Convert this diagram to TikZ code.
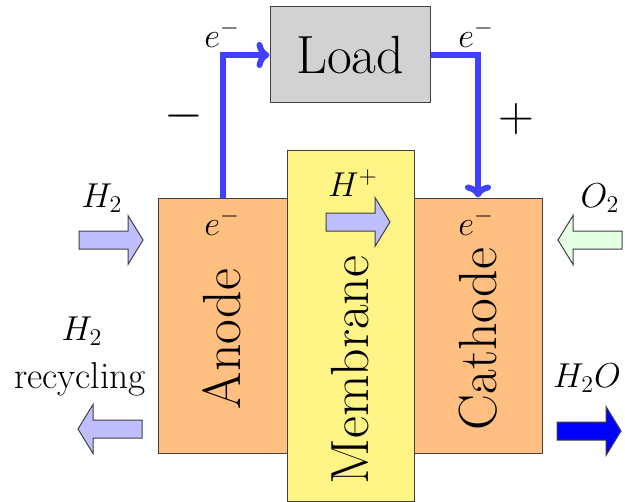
\documentclass[tikz,border=0pt]{standalone}
\usetikzlibrary{arrows.meta}
\definecolor{membr}{RGB}{255,245,135}
\newcommand{\bigfnt}{\fontsize{26.9}{32}\selectfont}
\newcommand{\smfnt}{\fontsize{18.7}{22}\selectfont}
\begin{document}
\begin{tikzpicture}[x=0.5pt,y=-0.5pt,
  cell/.style={draw=black!75, line width=0.5pt, fill=orange!50, minimum width=64.5pt, minimum height=127.5pt, inner sep=0pt},
  membox/.style={draw=black!75, line width=0.5pt, fill=membr, minimum width=63.5pt, minimum height=175pt, inner sep=0pt},
  loadbox/.style={draw=black!75, line width=0.5pt, fill=gray!35, minimum width=80pt, minimum height=48pt, inner sep=0pt, font=\bigfnt},
  bigtxt/.style={font=\bigfnt, inner sep=0pt},
  smalltxt/.style={font=\smfnt, inner sep=0pt},
  wire/.style={draw=blue!75, line width=3pt, -{Computer Modern Rightarrow[length=6.5pt,width=13pt,round]}},
  fatR/.pic={\path[pic actions] (0,-9) -- (49,-9) -- (49,-24.5) -- (64,0) -- (49,24.5) -- (49,9) -- (0,9) -- cycle;},
  flow/.style={draw=black!75, line width=0.5pt}
]
\useasboundingbox (0,0) rectangle (625,502);

% cells
\node[cell] (anode) at (222.5,325.5) {};
\node[cell] (cathode) at (478,325.5) {};
\node[membox] (membrane) at (350.5,326) {};
\node[loadbox] (load) at (350,55) {Load};

% cell labels
\node[bigtxt, rotate=90] (anodetxt) at (222,339) {Anode};
\node[bigtxt, rotate=90] (membtxt) at (350,370) {Membrane};
\node[bigtxt, rotate=90] (cathtxt) at (478,339) {Cathode};

% wires
\draw[wire] (anode.north) |- (load.west);
\draw[wire] (load.east) -| (cathode.north);

% electron labels
\node[smalltxt] (eA) at (222,34) {$e^-$};
\node[smalltxt] (eC) at (476,34) {$e^-$};
\node[smalltxt] (eAin) at (222,222) {$e^-$};
\node[smalltxt] (eCin) at (476,222) {$e^-$};
\node[bigtxt] (minus) at (184,116) {$-$};
\node[bigtxt] (plus) at (516,119) {$+$};

% proton
\node[smalltxt] (hplus) at (353,183) {$H^+$};
\pic[flow, fill=blue!25] (hpa) at (326,222) {fatR};

% inputs / outputs
\node[smalltxt] (h2in) at (102,198) {$H_2$};
\pic[flow, fill=blue!25] (h2a) at (79,240) {fatR};
\node[smalltxt] (o2in) at (600,198) {$O_2$};
\pic[flow, fill=green!10, xscale=-1] (o2a) at (622,240) {fatR};
\node[smalltxt, anchor=base] (h2rec) at (82,340) {$H_2$};
\node[smalltxt, anchor=base] (h2rectxt) at (80,388) {recycling};
\pic[flow, fill=blue!25, xscale=-1] (h2ra) at (142,429) {fatR};
\node[smalltxt] (h2o) at (587,378) {$H_2O$};
\pic[flow, fill=blue] (h2oa) at (557,431) {fatR};
\end{tikzpicture}
\end{document}
